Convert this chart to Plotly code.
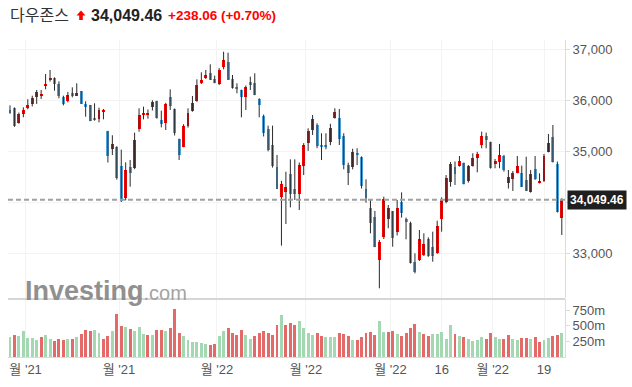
import plotly.graph_objects as go

# ---------------- data ----------------
dates = [
    "2021-10-26", "2021-10-27", "2021-10-28", "2021-10-29",
    "2021-11-01", "2021-11-02", "2021-11-03", "2021-11-04", "2021-11-05", "2021-11-08", "2021-11-09",
    "2021-11-10", "2021-11-11", "2021-11-12", "2021-11-15", "2021-11-16", "2021-11-17", "2021-11-18",
    "2021-11-19", "2021-11-22", "2021-11-23", "2021-11-24", "2021-11-26", "2021-11-29", "2021-11-30",
    "2021-12-01", "2021-12-02", "2021-12-03", "2021-12-06", "2021-12-07", "2021-12-08", "2021-12-09",
    "2021-12-10", "2021-12-13", "2021-12-14", "2021-12-15", "2021-12-16", "2021-12-17", "2021-12-20",
    "2021-12-21", "2021-12-22", "2021-12-23", "2021-12-27", "2021-12-28", "2021-12-29", "2021-12-30",
    "2021-12-31",
    "2022-01-03", "2022-01-04", "2022-01-05", "2022-01-06", "2022-01-07", "2022-01-10", "2022-01-11",
    "2022-01-12", "2022-01-13", "2022-01-14", "2022-01-18", "2022-01-19", "2022-01-20", "2022-01-21",
    "2022-01-24", "2022-01-25", "2022-01-26", "2022-01-27", "2022-01-28", "2022-01-31",
    "2022-02-01", "2022-02-02", "2022-02-03", "2022-02-04", "2022-02-07", "2022-02-08", "2022-02-09",
    "2022-02-10", "2022-02-11", "2022-02-14", "2022-02-15", "2022-02-16", "2022-02-17", "2022-02-18",
    "2022-02-22", "2022-02-23", "2022-02-24", "2022-02-25", "2022-02-28",
    "2022-03-01", "2022-03-02", "2022-03-03", "2022-03-04", "2022-03-07", "2022-03-08", "2022-03-09",
    "2022-03-10", "2022-03-11", "2022-03-14", "2022-03-15", "2022-03-16", "2022-03-17", "2022-03-18",
    "2022-03-21", "2022-03-22", "2022-03-23", "2022-03-24", "2022-03-25", "2022-03-28", "2022-03-29",
    "2022-03-30", "2022-03-31",
    "2022-04-01", "2022-04-04", "2022-04-05", "2022-04-06", "2022-04-07", "2022-04-08", "2022-04-11",
    "2022-04-12", "2022-04-13", "2022-04-14", "2022-04-18", "2022-04-19", "2022-04-20", "2022-04-21",
    "2022-04-22", "2022-04-25",
]

opens = [
    35800, 35840, 35560, 35740,
    35850, 35930, 36060, 36095, 36290, 36400, 36437, 36310, 36070, 35990, 36140, 36090, 36180, 35925,
    35900, 35660, 35640, 35780, 35400, 35040, 35078,
    34718, 34091, 34700, 34666, 35444, 35718, 35720, 35862, 35987, 35620, 35560, 36065, 35830, 35240,
    35090, 35500, 35790, 35980, 36330, 36440, 36540, 36410,
    36320, 36659, 36751, 36420, 36270, 36200, 36071, 36359, 36330, 36020, 35690, 35438, 35117, 34700,
    34100, 34210, 34555, 34270, 34156, 34718,
    35170, 35410, 35520, 35124, 35124, 35190, 35650, 35647, 35300, 34731, 34700, 34970, 34890, 34270,
    33882, 33718, 32870, 33313, 33666,
    33829, 33411, 34000, 33670, 33600, 32830, 32869, 32967, 33274, 33117, 33013, 33673, 34012, 34405,
    34686, 34719, 34765, 34418, 34712, 34863, 35124, 35300, 35176,
    34752, 34797, 34915, 34386, 34458, 34582, 34582, 34438, 34196, 34654, 34386, 34425, 34993, 35274,
    34752, 33700,
]

highs = [
    35900, 35860, 35760, 35862,
    36020, 36090, 36202, 36202, 36516, 36594, 36450, 36372, 36090, 36163, 36254, 36333, 36182, 35980,
    35910, 35941, 35856, 35830, 35400, 35314, 35100,
    35032, 34783, 34829, 35366, 35843, 35875, 35820, 36000, 35990, 35797, 35950, 36215, 35840, 35250,
    35530, 35843, 36084, 36411, 36548, 36594, 36705, 36483,
    36630, 36952, 36934, 36496, 36333, 36210, 36290, 36463, 36529, 36040, 35720, 35503, 35503, 34928,
    34420, 34600, 34842, 34842, 34780, 35160,
    35451, 35712, 35549, 35353, 35353, 35540, 35843, 35830, 35354, 34777, 35050, 35060, 34900, 34450,
    34045, 33830, 33261, 34110, 33947,
    33829, 34045, 34195, 33700, 33620, 33000, 33457, 33392, 33313, 33424, 33640, 34097, 34535, 34790,
    34800, 34908, 34780, 34732, 34961, 34990, 35385, 35366, 35190,
    34850, 35144, 34930, 34634, 34614, 34908, 34719, 34895, 34634, 34908, 34568, 34948, 35340, 35516,
    34800, 34080,
]

lows = [
    35735, 35480, 35540, 35667,
    35823, 35880, 35928, 36026, 36215, 36365, 36189, 36039, 35900, 35960, 36058, 36085, 35928, 35679,
    35590, 35600, 35568, 35627, 34780, 34927, 34445,
    34006, 34038, 34306, 34650, 35385, 35627, 35640, 35800, 35640, 35470, 35418, 35810, 35310, 34830,
    35080, 35464, 35777, 35970, 36320, 36418, 36398, 36333,
    36300, 36607, 36400, 36228, 36137, 35666, 35810, 36202, 36100, 35666, 35290, 35000, 34680, 34260,
    33150, 33575, 33901, 34045, 33849, 34535,
    35007, 35320, 35060, 34829, 35040, 35120, 35640, 35124, 34646, 34339, 34646, 34730, 34270, 33993,
    33392, 33120, 32314, 33280, 33490,
    33130, 33350, 33700, 33274, 32800, 32608, 32850, 32947, 32930, 32836, 32990, 33424, 33980, 34307,
    34340, 34700, 34350, 34386, 34700, 34588, 35059, 35059, 34660,
    34667, 34667, 34601, 34270, 34222, 34570, 34300, 34220, 34190, 34440, 34370, 34400, 34980, 34780,
    33800, 33360,
]

closes = [
    35756.88, 35490.69, 35730.48, 35819.56,
    35913.84, 36052.63, 36157.58, 36124.23, 36327.95, 36432.22, 36319.98, 36079.94, 35921.23, 36100.31,
    36087.45, 36142.22, 35931.05, 35870.95, 35601.98, 35619.25, 35813.80, 35804.38, 34899.34, 35135.94,
    34483.72,
    34022.04, 34639.79, 34580.08, 35227.03, 35719.43, 35754.75, 35754.69, 35970.99, 35650.95, 35544.18,
    35927.43, 35897.64, 35365.44, 34932.16, 35492.70, 35753.89, 35950.56, 36302.38, 36398.21, 36488.63,
    36398.08, 36338.30,
    36585.06, 36799.65, 36407.11, 36236.47, 36231.66, 36068.87, 36252.02, 36290.32, 36113.62, 35911.81,
    35368.47, 35028.65, 34715.39, 34265.37, 34364.50, 34297.73, 34168.09, 34160.78, 34725.47, 35131.86,
    35405.24, 35629.33, 35111.16, 35089.74, 35091.13, 35462.78, 35768.06, 35241.59, 34738.06, 34566.17,
    34988.84, 34934.27, 34312.03, 34079.18, 33596.61, 33131.76, 33223.83, 34058.75, 33892.60,
    33294.95, 33891.35, 33794.66, 33614.80, 32817.38, 32632.64, 33286.25, 33174.07, 32944.19, 32945.24,
    33544.34, 34063.10, 34480.76, 34754.93, 34552.99, 34807.46, 34358.50, 34707.94, 34861.24, 34955.89,
    35294.19, 35228.81, 34678.35,
    34818.27, 34921.88, 34641.18, 34496.51, 34583.57, 34721.12, 34308.08, 34220.36, 34564.59, 34451.23,
    34411.69, 34911.20, 35160.79, 34792.76, 33811.40, 34049.46,
]
prev_close = 35741.15  # close before the first candle

# volume in millions of shares
volumes_m = [
    315, 358, 342, 411, 299, 299, 267, 315, 347, 283, 251, 283, 267, 283, 283, 315, 363, 427, 411, 427,
    390, 283, 332, 411, 683, 491, 475, 444, 411, 475, 375, 347,
    358, 438, 438, 422, 470, 763, 391, 342, 279, 246, 246, 230, 214, 199, 214, 342, 422, 470, 391, 358,
    438, 358, 295, 342, 391, 422, 391, 358, 518, 678, 518, 550, 518,
    571, 470, 391, 358, 391, 342, 326, 326, 326, 391, 375, 342, 279, 279, 326, 391, 407, 358, 571, 407,
    407, 422, 375, 342, 391, 470, 534, 407, 375, 342, 375, 375,
    407, 295, 518, 375, 342, 326, 295, 263, 279, 326, 295, 391, 326, 295, 295, 358, 295, 279, 310, 310,
    295, 326, 246, 279, 310, 342, 358, 391,
]

tick_dates = ["2021-11-01", "2021-12-01", "2022-01-03", "2022-02-01",
              "2022-03-01", "2022-03-16", "2022-04-01", "2022-04-19"]
tick_labels = ["월 '21", "월 '21", "월 '22", "월 '22", "월 '22", "16", "월 '22", "19"]
price_ticks = [33000, 34000, 35000, 36000, 37000]
price_tick_labels = ["33,000", "", "35,000", "36,000", "37,000"]
vol_ticks = [250, 500, 750]
vol_tick_labels = ["250m", "500m", "750m"]
index_name = "다우존스"

# ---------------- styles ----------------
UP = "#ff0000"
DOWN = "#4ea3dc"
WICK = "#2a2a2a"
VOL_UP = "#a3d8b3"
VOL_DOWN = "#e46a6a"
GRID = "#f3f3f3"
AXIS = "#dcdcdc"
TXT = "#555555"

n = len(dates)
xs = list(range(n))

# wicks
wx, wy = [], []
for i in xs:
    wx += [i, i, None]
    wy += [lows[i], highs[i], None]

body_base = [min(o, c) for o, c in zip(opens, closes)]
body_len = [abs(c - o) for o, c in zip(opens, closes)]
body_col = [UP if c >= o else DOWN for o, c in zip(opens, closes)]

prevs = [prev_close] + closes[:-1]
vol_col = [VOL_UP if c >= p else VOL_DOWN for c, p in zip(closes, prevs)]

fig = go.Figure()
fig.add_trace(go.Scatter(x=wx, y=wy, mode="lines", line=dict(color=WICK, width=1),
                         hoverinfo="skip", yaxis="y"))
fig.add_trace(go.Bar(x=xs, y=body_len, base=body_base, width=0.66,
                     marker=dict(color=body_col, line=dict(width=0)), yaxis="y"))
fig.add_trace(go.Bar(x=xs, y=volumes_m, width=0.66,
                     marker=dict(color=vol_col, line=dict(width=0)), yaxis="y2"))

# tick positions: month boundaries sit half a step before first session
tick_pos = []
for d, lab in zip(tick_dates, tick_labels):
    k = dates.index(d)
    tick_pos.append(k - 0.5 if "월" in lab else k)

last = closes[-1]
chg = closes[-1] - closes[-2]
pct = chg / closes[-2] * 100

W, H = 632, 387
L, R, T, B = 8, 67, 40, 30
pw, ph = W - L - R, H - T - B


def px(x_):  # screen x -> paper
    return (x_ - L) / pw


def py(y_):  # screen y -> paper
    return (H - B - y_) / ph


fig.update_layout(
    width=W, height=H,
    margin=dict(l=L, r=R, t=T, b=B, autoexpand=False),
    paper_bgcolor="white", plot_bgcolor="white",
    showlegend=False, bargap=0,
    font=dict(family="Liberation Sans, Arial, sans-serif", size=12, color=TXT),
    xaxis=dict(range=[-0.45, n - 0.28], tickvals=tick_pos, ticktext=tick_labels,
               showgrid=True, gridcolor=GRID, gridwidth=1, zeroline=False,
               showline=True, linecolor=AXIS, linewidth=1, ticks="",
               tickfont=dict(size=13, color=TXT, family="Liberation Sans, Noto Sans CJK KR"),
               anchor="y2", fixedrange=True),
    yaxis=dict(domain=[59 / ph, 1], side="right", range=[32124, 37182],
               tickvals=price_ticks, ticktext=price_tick_labels,
               showgrid=True, gridcolor=GRID, zeroline=False,
               showline=True, linecolor=AXIS, ticks="outside", ticklen=4, tickcolor=AXIS,
               tickfont=dict(size=13, color=TXT), anchor="x"),
    yaxis2=dict(domain=[0, 58 / ph], side="right", range=[0, 58 * 16],
                tickvals=vol_ticks, ticktext=vol_tick_labels,
                showgrid=False, zeroline=False,
                showline=True, linecolor=AXIS, ticks="outside", ticklen=4, tickcolor=AXIS,
                tickfont=dict(size=13, color=TXT), anchor="x"),
)

# current price dashed line
fig.add_shape(type="line", xref="paper", x0=0, x1=1, yref="y", y0=last, y1=last,
              line=dict(color="#a0a0a0", width=2, dash="5px,3px"), layer="above")
# separator between panes
fig.add_shape(type="line", xref="paper", x0=0, x1=1, yref="paper", y0=py(299), y1=py(299),
              line=dict(color="#c8c8c8", width=1.5))

# price tag
fig.add_annotation(xref="paper", x=1, xanchor="left", xshift=2, yref="y", y=last,
                   text="<b>{:,.2f}</b>".format(last), showarrow=False,
                   font=dict(size=12, color="white", family="Liberation Sans, Arial"),
                   bgcolor="#1f1f1f", borderpad=2)

# watermark
fig.add_annotation(xref="paper", x=px(23), xanchor="left", yref="paper", y=py(291), yanchor="middle",
                   text="<b>Investing</b><span style='font-size:20px;color:#9a9a9a'>.com</span>",
                   showarrow=False, font=dict(size=27, color="#858585", family="Liberation Sans, Arial"),
                   opacity=0.9)

# header
fig.add_annotation(xref="paper", x=px(9), xanchor="left", yref="paper", y=py(14), yanchor="middle",
                   text=index_name, showarrow=False, borderpad=0,
                   font=dict(size=16, color="#333333", family="Noto Sans CJK KR"))
# up-arrow icon (block arrow)
ax0, ax1, axm = px(76.5), px(85.5), px(81)
s0, s1 = px(79.2), px(82.8)
yb, yt, ys = py(20), py(10.5), py(15.5)
fig.add_shape(type="path", xref="paper", yref="paper",
              path=(f"M {s0},{yb} L {s1},{yb} L {s1},{ys} L {ax1},{ys} L {axm},{yt} "
                    f"L {ax0},{ys} L {s0},{ys} Z"),
              fillcolor="#ff0000", line=dict(width=0))
fig.add_annotation(xref="paper", x=px(89), xanchor="left", yref="paper", y=py(15), yanchor="middle",
                   text="<b>{:,.2f}</b>".format(last), showarrow=False,
                   font=dict(size=16, color="#222222", family="Liberation Sans, Arial"))
fig.add_annotation(xref="paper", x=px(166), xanchor="left", yref="paper", y=py(15), yanchor="middle",
                   text="<b>{:+,.2f} ({:+.2f}%)</b>".format(chg, pct), showarrow=False,
                   font=dict(size=13.5, color="#ff0000", family="Liberation Sans, Arial"))

fig.write_html("out.html", config={"displayModeBar": False},
               post_script="document.body.style.margin='0';document.body.style.overflow='hidden';")
